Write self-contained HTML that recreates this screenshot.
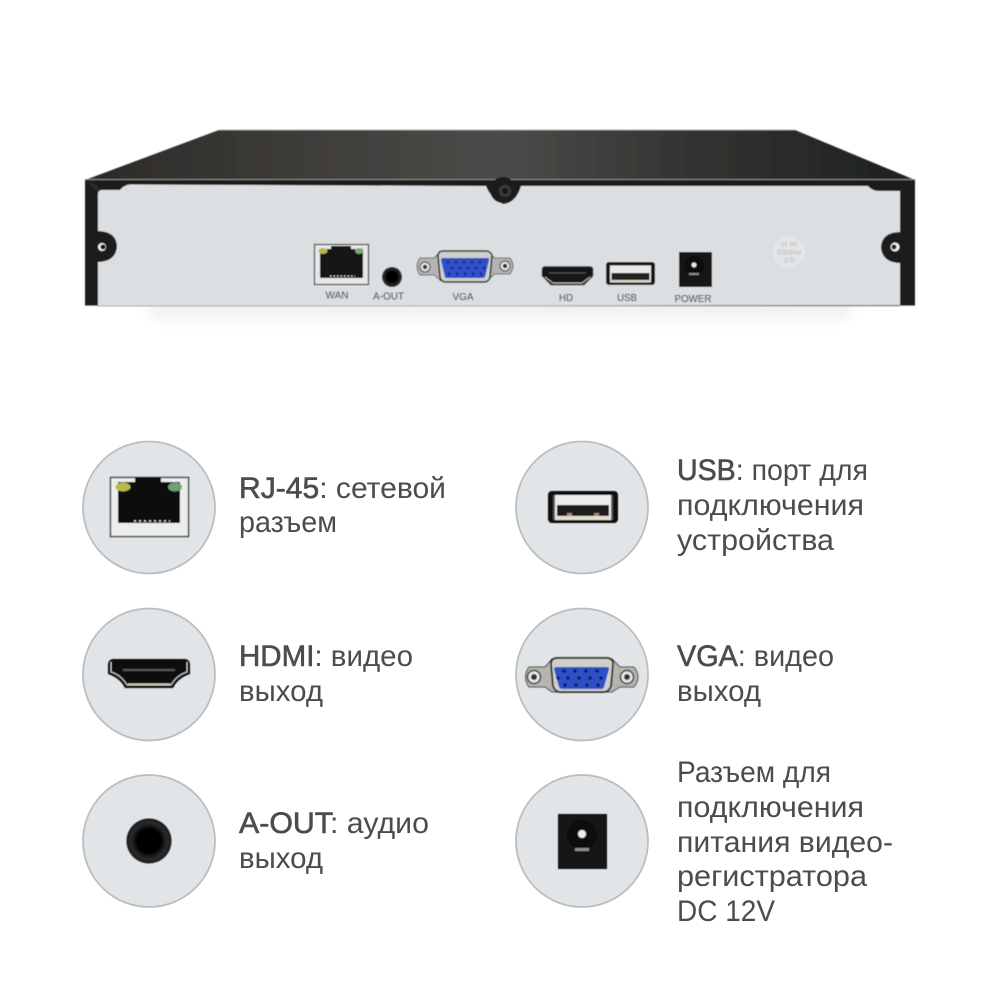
<!DOCTYPE html>
<html><head><meta charset="utf-8"><style>
html,body{margin:0;padding:0;background:#fff}
svg{display:block}
text{font-family:"Liberation Sans","DejaVu Sans",sans-serif}
.t{font-size:29.5px;fill:#4c4c4c}
.b{stroke:#4c4c4c;stroke-width:.6}
.l{font-size:10px;fill:#555}
</style></head><body>
<svg width="1000" height="1000" viewBox="0 0 1000 1000" xmlns="http://www.w3.org/2000/svg">
<defs>
<linearGradient id="top" x1="0" x2="1" y1="0" y2="0">
<stop offset="0" stop-color="#2b2a28"/><stop offset=".3" stop-color="#403f3c"/><stop offset=".5" stop-color="#4b4b49"/><stop offset=".72" stop-color="#343433"/><stop offset="1" stop-color="#1f2120"/>
</linearGradient>
<radialGradient id="au"><stop offset="0" stop-color="#000"/><stop offset=".55" stop-color="#050505"/><stop offset=".8" stop-color="#2a2b2c"/><stop offset="1" stop-color="#1a1b1c"/></radialGradient>
<filter id="bl" x="-5%" y="-5%" width="110%" height="110%"><feGaussianBlur stdDeviation=".5"/></filter>
<filter id="bl2" x="-10%" y="-10%" width="120%" height="120%"><feGaussianBlur stdDeviation=".65"/></filter>
<filter id="bl3" x="-20%" y="-300%" width="140%" height="700%"><feGaussianBlur stdDeviation="7"/></filter>
</defs>

<!-- shadow -->
<rect x="150" y="304" width="700" height="12" fill="#c9ccce" filter="url(#bl3)" opacity=".42"/>

<!-- device -->
<g filter="url(#bl)">
<polygon points="219,130 795,130 915,180 85,180" fill="url(#top)"/>
<line x1="219" y1="130" x2="795" y2="130" stroke="#aaa" stroke-width=".8"/>
<rect x="85" y="179.500" width="830" height="126" fill="#1a1b1c"/>
<line x1="86" y1="179.500" x2="914" y2="179.500" stroke="#8a8a8a" stroke-width=".9"/>
<path d="M98,306 V194 Q98,190 102,190 L120,190 Q124,185 130,184.500 L486,186 Q490,197 503,204 Q516,203 521,186 L868,186 Q872,191 880,191 L900,191 V305 Z" fill="#dcdfe1"/>
<line x1="97" y1="306" x2="900" y2="306" stroke="#8e9194" stroke-width=".8"/>
<!-- ear notches -->
<path d="M97,231 Q116,231 117,246 Q116,262 97,262 Z" fill="#1a1b1c"/>
<path d="M901,232 Q882,232 881,247 Q882,263 901,263 Z" fill="#1a1b1c"/>
<circle cx="102" cy="247" r="4" fill="#f0f0f0"/><circle cx="103" cy="247" r="2.500" fill="#111"/>
<circle cx="895" cy="247" r="4.500" fill="#f0f0f0"/><circle cx="894" cy="247" r="2.500" fill="#222"/>
<polygon points="85,180 98,192 98,186" fill="#2a2a2a"/>
<!-- screw -->
<circle cx="503" cy="190" r="13" fill="#1a1b1c"/><circle cx="505" cy="191" r="6" fill="#3a3b3b"/><circle cx="505" cy="191" r="3" fill="#161616"/>

<!-- WAN -->
<rect x="314.500" y="244.500" width="54" height="40" fill="#e6e7e8" stroke="#333" stroke-width="1.200"/>
<path d="M320,249 H331 V246 H351 V249 H363 V278 H320 Z" fill="#151515"/>
<ellipse cx="323" cy="251" rx="4.500" ry="3" fill="#bdb84a"/>
<ellipse cx="359" cy="251" rx="4" ry="3" fill="#7fa87a"/>
<line x1="330" y1="276" x2="355" y2="276" stroke="#ddd" stroke-width="1.200" stroke-dasharray="1.500 2"/>
<!-- audio -->
<circle cx="392" cy="277" r="10" fill="url(#au)"/>
<!-- VGA -->
<path d="M420,258 H434 L441,251 H487 L495,258 H510 Q516,266 510,274 H495 L487,281 H441 L434,275 H420 Q414,266 420,258 Z" fill="#b4b4b0" stroke="#4a4a4a" stroke-width=".8"/>
<path d="M438,256 Q438,251 443,251 H486 Q491,251 492,256 L490,277 Q489,282 484,282 H446 Q441,282 440,277 Z" fill="#cfcfcc" stroke="#262626" stroke-width="1.500"/>
<path d="M441,260 Q441,258 443,258 H487 Q490,258 489,260 L485,277 Q484,278 482,278 H447 Q445,278 445,277 Z" fill="#2f50c8"/>
<g fill="#10205c">
<circle cx="448" cy="262" r="1.200"/><circle cx="456" cy="262" r="1.200"/><circle cx="464" cy="262" r="1.200"/><circle cx="472" cy="262" r="1.200"/><circle cx="480" cy="262" r="1.200"/>
<circle cx="452" cy="268" r="1.200"/><circle cx="460" cy="268" r="1.200"/><circle cx="468" cy="268" r="1.200"/><circle cx="476" cy="268" r="1.200"/><circle cx="484" cy="268" r="1.200"/>
<circle cx="449" cy="274" r="1.200"/><circle cx="457" cy="274" r="1.200"/><circle cx="465" cy="274" r="1.200"/><circle cx="473" cy="274" r="1.200"/><circle cx="481" cy="274" r="1.200"/>
</g>
<circle cx="425" cy="267" r="5" fill="#e8e8e8" stroke="#333" stroke-width="1"/><circle cx="425" cy="267" r="2.200" fill="#333"/>
<circle cx="505" cy="266" r="5" fill="#e8e8e8" stroke="#333" stroke-width="1"/><circle cx="505" cy="266" r="2.200" fill="#333"/>
<!-- HD -->
<path d="M545,266.500 H590 Q593,266.500 593,270 V276 L584,285 H551 L542,276 V270 Q542,266.500 545,266.500 Z" fill="#151515" stroke="#555" stroke-width=".8"/>
<line x1="549" y1="273" x2="586" y2="273" stroke="#555" stroke-width="1"/>
<path d="M545,277 L553,283 H582 L590,277" fill="none" stroke="#c9c0b5" stroke-width="1"/>
<!-- USB -->
<rect x="606" y="262" width="49" height="23" rx="3" fill="#141414"/>
<rect x="610" y="265.500" width="41" height="16.500" fill="#e8e8e8"/>
<rect x="611.500" y="273" width="38" height="7" fill="#222"/>
<rect x="610" y="280" width="41" height="2.500" fill="#d8d2c4"/>
<!-- POWER -->
<rect x="679" y="252" width="33" height="35" fill="#171717"/>
<circle cx="694" cy="266" r="10" fill="#0a0a0a"/><circle cx="694" cy="265" r="2.500" fill="#e8e8e8"/>
<rect x="689" y="273" width="10" height="2" fill="#888"/>
<!-- sticker -->
<circle cx="789" cy="252" r="16" fill="#e3e5e7"/>
</g>
<g transform="rotate(180 789 252)" font-size="6" fill="#b2b4b6" text-anchor="middle" filter="url(#bl)">
<text x="789" y="246">Q C</text><text x="789" y="254">PASSED</text><text x="789" y="262">No 10</text>
</g>
<g filter="url(#bl)">
<text class="l" x="325.500" y="298.500" textLength="23" lengthAdjust="spacingAndGlyphs">WAN</text>
<text class="l" x="373" y="299.500" textLength="31" lengthAdjust="spacingAndGlyphs">A-OUT</text>
<text class="l" x="452.500" y="300" textLength="21" lengthAdjust="spacingAndGlyphs">VGA</text>
<text class="l" x="559" y="301" textLength="14" lengthAdjust="spacingAndGlyphs">HD</text>
<text class="l" x="617" y="301" textLength="20" lengthAdjust="spacingAndGlyphs">USB</text>
<text class="l" x="674.500" y="302" textLength="37" lengthAdjust="spacingAndGlyphs">POWER</text>
</g>

<!-- circles -->
<g fill="#e2e5e8" stroke="#bcbebe" stroke-width="1.800">
<circle cx="149" cy="507.500" r="66"/><circle cx="149" cy="674.500" r="66"/><circle cx="149" cy="841" r="66"/>
<circle cx="582" cy="507.500" r="66"/><circle cx="582" cy="674.500" r="66"/><circle cx="582" cy="841" r="66"/>
</g>

<g filter="url(#bl2)">
<!-- RJ45 big -->
<rect x="110.500" y="477.500" width="78" height="59" fill="#eceded" stroke="#2a2a2a" stroke-width="1.300"/>
<path d="M118,482 H135 V478 H161 V482 H180 V523 H118 Z" fill="#111"/>
<ellipse cx="123" cy="487" rx="7.500" ry="4.500" fill="#bdb84a"/>
<ellipse cx="175" cy="487" rx="7" ry="4.500" fill="#6fa06f"/>
<line x1="134" y1="521" x2="170" y2="521" stroke="#e6e6e6" stroke-width="1.600" stroke-dasharray="2 3"/>
<!-- HDMI big -->
<path d="M114,659 H184 Q190,659 190,665 V674 Q178,678 173,688 H125 Q120,678 108,674 V665 Q108,659 114,659 Z" fill="#0f0f0f"/>
<path d="M111,662 V672 Q121,675 127,685 H171 Q177,675 187,672 V662" fill="none" stroke="#d5d5d5" stroke-width="1"/>
<rect x="123" y="669" width="52" height="2" fill="#555"/>
<line x1="128" y1="684" x2="170" y2="684" stroke="#d6bfa9" stroke-width="1.200"/>
<!-- Audio big -->
<circle cx="149" cy="841" r="22.500" fill="url(#au)"/>
<!-- USB big -->
<rect x="548" y="491" width="70" height="32" rx="4" fill="#111"/>
<rect x="554" y="495" width="58" height="25" fill="#ececec"/>
<rect x="557" y="505" width="52" height="11" fill="#1f1f1f"/>
<rect x="556" y="516" width="54" height="4" fill="#e3decf"/>
<rect x="553" y="495" width="2" height="25" fill="#555"/><rect x="611" y="495" width="2" height="25" fill="#555"/>
<rect x="567" y="513" width="5" height="3" fill="#a8895e"/><rect x="594" y="513" width="5" height="3" fill="#a8895e"/>
<!-- VGA big -->
<path d="M529,667 H545 L552,659 H612 L620,667 H634 Q642,677 634,687 H620 L612,692 H552 L545,687 H529 Q522,677 529,667 Z" fill="#b4b4b0" stroke="#4a4a4a" stroke-width="1"/>
<path d="M551,664 Q551,658 558,658 H606 Q613,658 613,664 L611,686 Q609,692 603,692 H561 Q555,692 553,686 Z" fill="#cfcfcc" stroke="#262626" stroke-width="1.800"/>
<path d="M554,669 Q554,667 557,667 H607 Q609,667 609,669 L604,687 Q603,689 601,689 H562 Q560,689 559,687 Z" fill="#2f50c8"/>
<g fill="#0e1c58">
<circle cx="564" cy="671" r="1.800"/><circle cx="575" cy="671" r="1.800"/><circle cx="586" cy="671" r="1.800"/><circle cx="597" cy="671" r="1.800"/>
<circle cx="568" cy="678" r="1.800"/><circle cx="579" cy="678" r="1.800"/><circle cx="590" cy="678" r="1.800"/><circle cx="601" cy="678" r="1.800"/><circle cx="558" cy="678" r="1.800"/>
<circle cx="565" cy="685" r="1.800"/><circle cx="576" cy="685" r="1.800"/><circle cx="587" cy="685" r="1.800"/><circle cx="598" cy="685" r="1.800"/>
</g>
<circle cx="534" cy="677" r="6.500" fill="#e8e8e8" stroke="#333" stroke-width="1.500"/><circle cx="534" cy="677" r="3" fill="#333"/>
<circle cx="627" cy="677" r="6.500" fill="#e8e8e8" stroke="#333" stroke-width="1.500"/><circle cx="627" cy="677" r="3" fill="#333"/>
<!-- Power big -->
<rect x="558" y="814" width="49" height="55" fill="#171718"/>
<circle cx="582" cy="835" r="15" fill="#070707"/><circle cx="582" cy="834" r="4" fill="#eee"/>
<rect x="575" y="848" width="14" height="3" fill="#8f8f85"/>
</g>

<!-- labels -->
<text class="t" x="239" y="498" textLength="207" lengthAdjust="spacingAndGlyphs"><tspan class="b">RJ-45</tspan>: сетевой</text>
<text class="t" x="239" y="532" textLength="98" lengthAdjust="spacingAndGlyphs">разъем</text>
<text class="t" x="239" y="666" textLength="174" lengthAdjust="spacingAndGlyphs"><tspan class="b">HDMI</tspan>: видео</text>
<text class="t" x="239" y="701" textLength="84" lengthAdjust="spacingAndGlyphs">выход</text>
<text class="t" x="239" y="833" textLength="190" lengthAdjust="spacingAndGlyphs"><tspan class="b">A-OUT</tspan>: аудио</text>
<text class="t" x="239" y="868" textLength="84" lengthAdjust="spacingAndGlyphs">выход</text>
<text class="t" x="677" y="480" textLength="191" lengthAdjust="spacingAndGlyphs"><tspan class="b">USB</tspan>: порт для</text>
<text class="t" x="677" y="515" textLength="187" lengthAdjust="spacingAndGlyphs">подключения</text>
<text class="t" x="677" y="550" textLength="157" lengthAdjust="spacingAndGlyphs">устройства</text>
<text class="t" x="677" y="666" textLength="157" lengthAdjust="spacingAndGlyphs"><tspan class="b">VGA</tspan>: видео</text>
<text class="t" x="677" y="701" textLength="84" lengthAdjust="spacingAndGlyphs">выход</text>
<text class="t" x="677" y="782" textLength="154" lengthAdjust="spacingAndGlyphs">Разъем для</text>
<text class="t" x="677" y="817" textLength="187" lengthAdjust="spacingAndGlyphs">подключения</text>
<text class="t" x="677" y="852" textLength="216" lengthAdjust="spacingAndGlyphs">питания видео-</text>
<text class="t" x="677" y="886" textLength="190" lengthAdjust="spacingAndGlyphs">регистратора</text>
<text class="t" x="677" y="921" textLength="98" lengthAdjust="spacingAndGlyphs">DC 12V</text>
</svg>
</body></html>
